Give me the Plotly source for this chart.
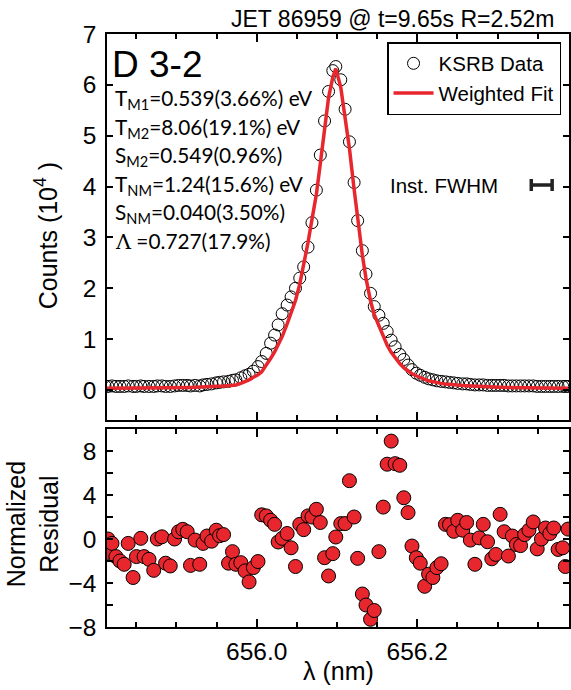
import plotly.graph_objects as go

# ---------------- data ----------------
wavelength_nm = [
    655.8110, 655.8147, 655.8197, 655.8246, 655.8296, 655.8349, 655.8399, 655.8460, 655.8502, 655.8556,
    655.8597, 655.8658, 655.8717, 655.8762, 655.8819, 655.8865, 655.8923, 655.8977, 655.9026, 655.9079,
    655.9134, 655.9175, 655.9233, 655.9290, 655.9332, 655.9381, 655.9438, 655.9496, 655.9537, 655.9587,
    655.9649, 655.9698, 655.9740, 655.9802, 655.9855, 655.9905, 655.9958, 656.0016, 656.0062, 656.0119,
    656.0173, 656.0223, 656.0267, 656.0317, 656.0379, 656.0428, 656.0483, 656.0536, 656.0585, 656.0639,
    656.0688, 656.0743, 656.0792, 656.0845, 656.0895, 656.0948, 656.0985, 656.1047, 656.1101, 656.1155,
    656.1213, 656.1257, 656.1316, 656.1361, 656.1418, 656.1464, 656.1522, 656.1576, 656.1625, 656.1675,
    656.1724, 656.1782, 656.1832, 656.1885, 656.1934, 656.1988, 656.2037, 656.2092, 656.2141, 656.2194,
    656.2244, 656.2297, 656.2351, 656.2401, 656.2454, 656.2504, 656.2566, 656.2615, 656.2661, 656.2718,
    656.2772, 656.2822, 656.2875, 656.2928, 656.2978, 656.3032, 656.3082, 656.3135, 656.3184, 656.3234,
    656.3287, 656.3337, 656.3391, 656.3444, 656.3494, 656.3547, 656.3597, 656.3651, 656.3700, 656.3754,
    656.3812, 656.3844, 656.3878,
]

counts_1e4 = [
    0.08, 0.07, 0.08, 0.07, 0.07, 0.07, 0.08, 0.07, 0.07, 0.08,
    0.07, 0.07, 0.07, 0.08, 0.08, 0.07, 0.07, 0.08, 0.09, 0.09,
    0.09, 0.08, 0.09, 0.08, 0.10, 0.11, 0.12, 0.14, 0.15, 0.16,
    0.17, 0.19, 0.20, 0.24, 0.28, 0.31, 0.37, 0.46, 0.56, 0.72,
    0.92, 1.08, 1.28, 1.50, 1.67, 1.83, 2.00, 2.20, 2.42, 2.81,
    3.29, 3.93, 4.62, 5.29, 5.87, 6.28, 6.36, 6.10, 5.52, 4.88,
    4.08, 3.33, 2.74, 2.28, 1.90, 1.64, 1.47, 1.31, 1.15, 0.98,
    0.85, 0.70, 0.60, 0.49, 0.40, 0.33, 0.29, 0.25, 0.22, 0.20,
    0.18, 0.17, 0.16, 0.15, 0.14, 0.13, 0.12, 0.12, 0.11, 0.10,
    0.10, 0.10, 0.09, 0.09, 0.09, 0.09, 0.09, 0.08, 0.08, 0.08,
    0.08, 0.08, 0.08, 0.08, 0.07, 0.07, 0.07, 0.07, 0.07, 0.07,
    0.07, 0.07, 0.07,
]

fit_1e4 = [
    0.035, 0.035, 0.035, 0.035, 0.035, 0.036, 0.036, 0.037, 0.037, 0.038,
    0.038, 0.039, 0.040, 0.041, 0.042, 0.043, 0.044, 0.045, 0.046, 0.048,
    0.050, 0.051, 0.053, 0.055, 0.057, 0.060, 0.064, 0.068, 0.072, 0.077,
    0.085, 0.093, 0.10, 0.13, 0.16, 0.20, 0.25, 0.30, 0.36, 0.48,
    0.62, 0.75, 0.88, 1.05, 1.30, 1.52, 1.76, 2.08, 2.45, 2.90,
    3.35, 3.85, 4.45, 5.15, 5.75, 6.15, 6.32, 5.95, 5.35, 4.75,
    3.95, 3.35, 2.65, 2.20, 1.75, 1.48, 1.25, 1.05, 0.88, 0.74,
    0.63, 0.52, 0.44, 0.37, 0.32, 0.28, 0.24, 0.21, 0.18, 0.16,
    0.14, 0.13, 0.12, 0.11, 0.10, 0.095, 0.09, 0.085, 0.08, 0.075,
    0.07, 0.065, 0.062, 0.060, 0.057, 0.055, 0.052, 0.050, 0.048, 0.046,
    0.045, 0.044, 0.043, 0.042, 0.041, 0.040, 0.039, 0.038, 0.037, 0.036,
    0.036, 0.035, 0.035,
]

norm_residual = [
    -1.3, 0.0, -0.4, -1.6, -2.0, -2.3, -0.4, -3.5, -1.6, 0.06,
    -1.6, -1.85, -2.85, 0.0, 0.2, -2.2, -2.45, 0.0, 0.66, 0.88,
    0.66, -2.4, -0.1, -2.3, -0.4, 0.27, -0.2, 0.8, 0.3, 0.4,
    -2.2, -1.15, -2.3, -2.15, -2.9, -3.9, -2.6, -2.05, 2.2, 2.1,
    1.7, 1.33, -0.27, 0.06, 0.5, -0.8, -2.5, 1.33, 0.85, 2.1,
    2.0, 2.7, 1.5, -1.7, -3.36, -1.33, 0.18, 1.4, 1.4, 5.3,
    2.0, -1.76, -5.0, -6.0, -7.3, -6.5, -1.15, 2.9, 6.8, 8.9,
    6.85, 6.7, 3.75, 2.4, -0.64, -1.7, -2.2, -4.3, -3.2, -3.5,
    -2.6, -2.25, 1.33, 1.3, 0.7, 1.7, 0.8, 1.5, -0.1, -2.3,
    0.1, 1.33, -0.25, -1.8, -1.4, 2.24, 0.66, -1.55, 0.27, -0.5,
    -0.6, 0.4, 0.8, 1.55, -0.9, 0.0, 1.0, 0.5, 1.0, -0.95,
    -0.8, -2.5, 0.9,
]

param_lines = [
    "T<sub>M1</sub>=0.539(3.66%) eV",
    "T<sub>M2</sub>=8.06(19.1%) eV",
    "S<sub>M2</sub>=0.549(0.96%)",
    "T<sub>NM</sub>=1.24(15.6%) eV",
    "S<sub>NM</sub>=0.040(3.50%)",
    "<span style=\"font-family:'DejaVu Serif',serif\">Λ</span> =0.727(17.9%)",
]

inst_center_nm = 656.355
inst_halfwidth_nm = 0.013
inst_level = 4.03

x_range = [655.8135, 656.3890]
y_top_range = [-0.59, 7.0]
y_bot_range = [-8.0, 10.0]

# ---------------- geometry helpers (pixel -> paper) ----------------
W, H = 571, 690
L, R, T, B = 107, 571, 34, 627


def px(xp):
    return (xp - L) / (R - L)


def py(yp):
    return (B - yp) / (B - T)


AX = "Liberation Sans, Arial, sans-serif"
RED = "#E8262D"
TICK_FONT = dict(family=AX, size=24.5, color="black")

fig = go.Figure()

fig.add_trace(go.Scatter(
    x=wavelength_nm, y=counts_1e4, mode="markers", name="KSRB Data",
    marker=dict(symbol="circle-open", size=12, color="black", line=dict(width=1)),
    xaxis="x", yaxis="y",
))
fig.add_trace(go.Scatter(
    x=wavelength_nm, y=fit_1e4, mode="lines", name="Weighted Fit",
    line=dict(color=RED, width=3.5), xaxis="x", yaxis="y",
))
fig.add_trace(go.Scatter(
    x=[inst_center_nm], y=[inst_level], mode="markers", showlegend=False,
    marker=dict(size=1, color="#222222"),
    error_x=dict(type="data", array=[inst_halfwidth_nm], color="#222222", thickness=3.5, width=6),
    xaxis="x", yaxis="y", hoverinfo="skip",
))
fig.add_trace(go.Scatter(
    x=wavelength_nm, y=norm_residual, mode="markers", showlegend=False,
    marker=dict(symbol="circle", size=14, color=RED, line=dict(color="black", width=1)),
    xaxis="x2", yaxis="y2",
))

top_dom = [py(420), 1.0]
bot_dom = [0.0, py(429)]

axis_common = dict(
    showline=True, linecolor="black", linewidth=1.5, mirror="ticks",
    ticks="inside", tickcolor="black", tickwidth=1.5,
    showgrid=False, zeroline=False,
    tickfont=TICK_FONT,
)

fig.update_layout(
    width=W, height=H,
    margin=dict(l=L, r=W - R, t=T, b=H - B),
    paper_bgcolor="white", plot_bgcolor="white",
    xaxis=dict(axis_common, domain=[0, 1], range=x_range, anchor="y",
               showticklabels=False, tick0=656.0, dtick=0.2, ticklen=8,
               minor=dict(dtick=0.05, tick0=656.0, ticks="inside", ticklen=5,
                          tickcolor="black", tickwidth=1.5)),
    yaxis=dict(axis_common, domain=top_dom, range=y_top_range, anchor="x",
               tick0=0, dtick=1, ticklen=6, ticklabelstandoff=4),
    xaxis2=dict(axis_common, domain=[0, 1], range=x_range, anchor="y2",
                tick0=656.0, dtick=0.2, ticklen=8, tickformat=".1f",
                ticklabelstandoff=2,
                minor=dict(dtick=0.05, tick0=656.0, ticks="inside", ticklen=5,
                           tickcolor="black", tickwidth=1.5)),
    yaxis2=dict(axis_common, domain=bot_dom, range=y_bot_range, anchor="x2",
                tickvals=[-8, -4, 0, 4, 8], ticklen=6, ticklabelstandoff=4,
                minor=dict(tickvals=[-6, -2, 2, 6], ticks="inside", ticklen=6,
                           tickcolor="black", tickwidth=1.5)),
    legend=dict(x=px(563), y=py(42), xanchor="right", yanchor="top",
                bgcolor="white", bordercolor="black", borderwidth=1.5,
                font=dict(family=AX, size=20.5, color="black"),
                itemwidth=40, tracegroupgap=0),
    showlegend=True,
)

ann = []
ann.append(dict(text="JET 86959 @ t=9.65s R=2.52m", x=px(558), y=py(19), xanchor="right",
                yanchor="middle", font=dict(family=AX, size=23, color="black")))
ann.append(dict(text="D 3-2", x=px(110), y=py(64), xanchor="left", yanchor="middle",
                font=dict(family=AX, size=37, color="black")))
for k, line in enumerate(param_lines):
    ann.append(dict(text=line, x=px(113), y=py(99 + 28.5 * k), xanchor="left", yanchor="middle",
                    font=dict(family="Lato, sans-serif", size=20.8, color="black")))
ann.append(dict(text="Inst. FWHM", x=px(502), y=py(186), xanchor="right", yanchor="middle",
                font=dict(family=AX, size=20.5, color="black")))
ann.append(dict(text="Counts (10<sup>4</sup> )", x=px(46), y=py(236), textangle=-90,
                xanchor="center", yanchor="middle", font=dict(family=AX, size=25, color="black")))
ann.append(dict(text="Normalized<br>Residual", x=px(32), y=py(524), textangle=-90,
                xanchor="center", yanchor="middle", font=dict(family=AX, size=25, color="black")))
ann.append(dict(text="λ (nm)", x=px(339), y=py(671), xanchor="center", yanchor="middle",
                font=dict(family=AX, size=25, color="black")))
for a in ann:
    a.update(xref="paper", yref="paper", showarrow=False)
fig.update_layout(annotations=ann)

fig.write_html("out.html")
